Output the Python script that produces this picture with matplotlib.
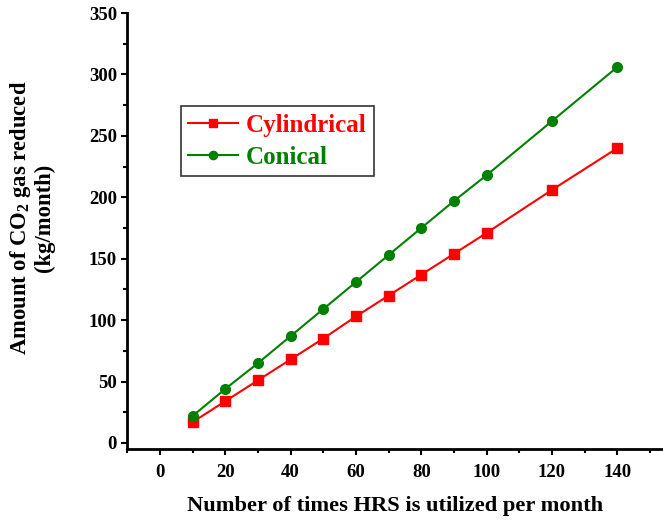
import matplotlib
matplotlib.use("Agg")
import matplotlib.pyplot as plt
from matplotlib.ticker import MultipleLocator

plt.rcParams['font.family'] = ['Liberation Serif', 'DejaVu Serif']
plt.rcParams['font.weight'] = 'bold'
plt.rcParams['mathtext.fontset'] = 'custom'
plt.rcParams['mathtext.rm'] = 'Liberation Serif:bold'
plt.rcParams['mathtext.it'] = 'Liberation Serif:bold'
plt.rcParams['mathtext.bf'] = 'Liberation Serif:bold'

# HRS usage per month vs CO2 reduction
usage = [10, 20, 30, 40, 50, 60, 70, 80, 90, 100, 120, 140]
cylindrical = [17, 34, 51, 68, 85, 103, 120, 137, 154, 171, 206, 240]
conical = [22, 44, 65, 87, 109, 131, 153, 175, 197, 218, 262, 306]

fig = plt.figure(figsize=(6.63, 5.21), dpi=100)
ax = fig.add_axes([0.192, 0.138, 0.808, 0.837])

ax.plot(usage, cylindrical, color='red', lw=1.5, marker='s', ms=7,
        label='Cylindrical')
ax.plot(usage, conical, color='green', lw=1.5, marker='o', ms=7,
        label='Conical')

ax.set_xlim(-10, 154)
ax.set_ylim(-5, 350)
ax.xaxis.set_major_locator(MultipleLocator(20))
ax.xaxis.set_minor_locator(MultipleLocator(10))
ax.yaxis.set_major_locator(MultipleLocator(50))
ax.yaxis.set_minor_locator(MultipleLocator(25))

for side in ['top', 'right']:
    ax.spines[side].set_visible(False)
for side in ['left', 'bottom']:
    ax.spines[side].set_linewidth(2)

ax.tick_params(which='major', direction='out', length=4.5, width=1.5,
               labelsize=13.5, pad=3)
ax.tick_params(axis='x', which='major', pad=6)
ax.tick_params(which='minor', direction='out', length=3, width=1.5)

ax.set_xlabel('Number of times HRS is utilized per month', fontsize=16.2,
              fontweight='bold', va='center')
ax.xaxis.set_label_coords(0.5, -0.13)
ax.set_ylabel('Amount of CO$_2$ gas reduced\n(kg/month)', fontsize=16.3,
              fontweight='bold', linespacing=1.05, va='center')
ax.yaxis.set_label_coords(-0.178, 0.53)

leg = ax.legend(loc='upper left', bbox_to_anchor=(0.1, 0.786),
                fontsize=18, frameon=True, fancybox=False, edgecolor='black',
                handlelength=2.0, borderpad=0.3, labelspacing=0.35,
                handletextpad=0.3, borderaxespad=0, markerscale=0.85)
leg.get_frame().set_linewidth(1.2)
for text, col in zip(leg.get_texts(), ['red', 'green']):
    text.set_color(col)
    text.set_fontweight('bold')

fig.savefig('out.png', dpi=100)
